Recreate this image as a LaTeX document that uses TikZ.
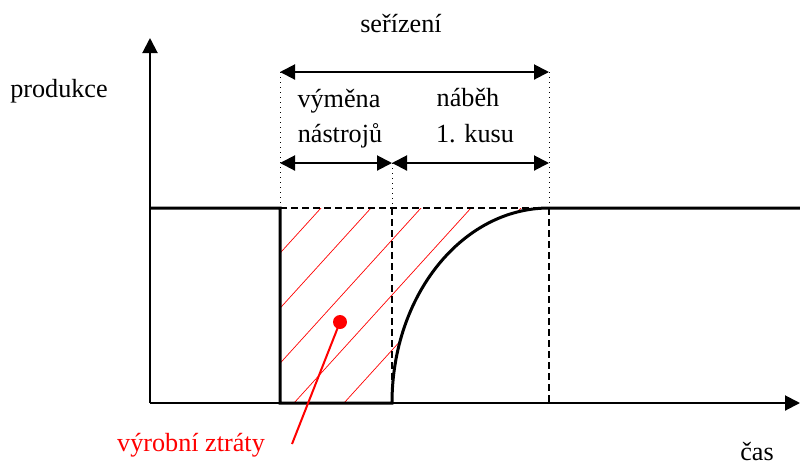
\documentclass[tikz,border=0pt]{standalone}
\usepackage{fontspec}
\setmainfont{LiberationSerif-Regular.ttf}
\usetikzlibrary{positioning,arrows.meta}

\begin{document}
\begin{tikzpicture}[x=0.5pt, y=-0.5pt,
  axis/.style={line width=1pt, -{Triangle[length=7.5pt,width=7.5pt]}},
  dim/.style={line width=1pt, {Triangle[length=7.5pt,width=7.5pt]}-{Triangle[length=7.5pt,width=7.5pt]}},
  guide/.style={dotted, line width=0.5pt},
  limit/.style={dash pattern=on 3.5pt off 2pt, line width=0.8pt},
  prod/.style={line width=1.5pt},
  hatch/.style={red, line width=0.35pt},
  lbl/.style={font=\fontsize{13.1}{16}\selectfont, inner sep=0pt, anchor=base},
  loss/.style={circle, fill=red, minimum size=7pt, inner sep=0pt},
]
\useasboundingbox (0,0) rectangle (800,463);

% axes
\coordinate (o) at (150,403);
\coordinate (ytop) at (150,38);
\coordinate (xend) at (800,403);
\draw[axis] (o) -- (ytop);
\draw[axis] (o) -- (xend);

% reference points
\coordinate (a1) at (280,72);
\coordinate (a2) at (549,72);
\coordinate (b1) at (280,163);
\coordinate (b2) at (392,163);
\coordinate (b3) at (549,163);
\coordinate (c0) at (150,208);
\coordinate (c1) at (280,208);
\coordinate (c2) at (392,208);
\coordinate (c3) at (549,208);
\coordinate (c4) at (800,208);
\coordinate (d1) at (280,403);
\coordinate (d2) at (392,403);
\coordinate (d3) at (549,403);

% hatched losses
\begin{scope}
\clip (c1) -- (c3) .. controls (462.3,208) and (392,295.3) .. (d2) -- (d1) -- cycle;
\foreach \x in {144,194,...,394}
  \draw[hatch] (\x,403) -- ++(177,-195);
\end{scope}

% limits
\draw[limit] (c1) -- (c3);
\draw[limit] (c2) -- (d2);
\draw[limit] (c3) -- (d3);
\draw[guide] (a1) -- (c1);
\draw[guide] (a2) -- (c3);
\draw[guide] (b2) -- (c2);

% intervals
\draw[dim] (a1) -- (a2);
\draw[dim] (b1) -- (b2);
\draw[dim] (b2) -- (b3);

% production
\draw[prod] (c0) -- (c1) -- (d1) -- (d2) .. controls (392,295.3) and (462.3,208) .. (c3) -- (c4);

% labels
\node[lbl] (serizeni) at (401,32) {seřízení};
\node[lbl] (vymena) at (339,107) {výměna};
\node[lbl] (nastroju) at (340,142) {nástrojů};
\node[lbl] (nabeh) at (468,106) {náběh};
\node[lbl] (kusu) at (475,142) {1. kusu};
\node[lbl] (produkce) at (59,97) {produkce};
\node[lbl] (cas) at (757,460) {čas};

% losses marker
\node[loss] (dot) at (340,322) {};
\coordinate (tail) at (292,444);
\draw[red, line width=1pt] (dot.center) -- (tail);
\node[lbl, red] (ztraty) at (191,451) {výrobní ztráty};
\end{tikzpicture}
\end{document}
